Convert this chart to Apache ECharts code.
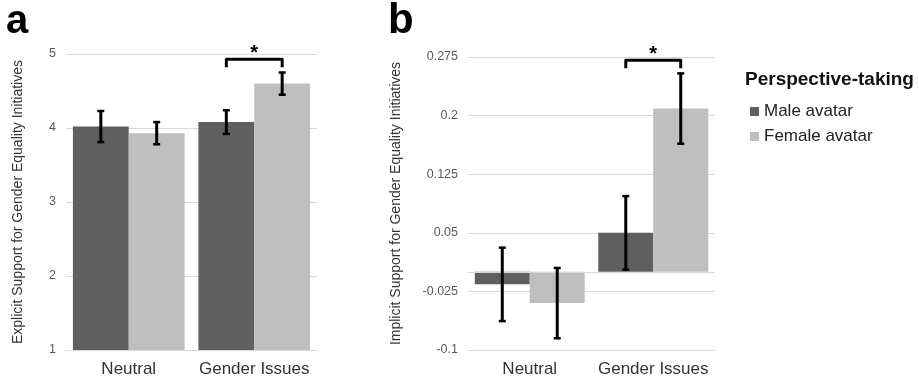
<!DOCTYPE html>
<html>
<head>
<meta charset="utf-8">
<script src="https://cdn.jsdelivr.net/npm/echarts@6/dist/echarts.min.js"></script>
<style>
html, body { margin: 0; padding: 0; background: #fff; }
#chart { width: 919px; height: 383px; }
</style>
</head>
<body>
<div id="chart"></div>
<script>
const categories = ['Neutral', 'Gender Issues']
const seriesNames = ['Male avatar', 'Female avatar']

// panel a: explicit support (means and error half-widths)
const explicitMale = [4.02, 4.08]
const explicitFemale = [3.93, 4.60]
const explicitMaleErr = [0.21, 0.16]
const explicitFemaleErr = [0.15, 0.15]
const explicitTicks = [1, 2, 3, 4, 5]

// panel b: implicit support
const implicitMale = [-0.016, 0.050]
const implicitFemale = [-0.040, 0.209]
const implicitMaleErr = [0.047, 0.047]
const implicitFemaleErr = [0.045, 0.045]
const implicitTicks = [-0.1, -0.025, 0.05, 0.125, 0.2, 0.275]

// significance brackets: [category index, height]
const sigA = [1, 4.93]
const sigB = [1, 0.271]

const FONT = 'Liberation Sans, Arial, sans-serif'
const DARK = '#5f5f5f'
const LIGHT = '#bfbfbf'
const GRID_COLOR = '#d9d9d9'
const BAR_SHARE = 0.89

const chart = echarts.init(document.getElementById('chart'))

function errorBarItem (params, api) {
  const cat = api.value(0)
  const side = api.value(3)
  const band = api.size([1, 0])[0]
  const offset = side * band * BAR_SHARE / 4
  const top = api.coord([cat, api.value(1) + api.value(2)])
  const bottom = api.coord([cat, api.value(1) - api.value(2)])
  const x = top[0] + offset
  const cap = 3.5
  return {
    type: 'group',
    children: [
      { type: 'line', shape: { x1: x, y1: top[1], x2: x, y2: bottom[1] }, style: { stroke: '#000', lineWidth: 3 } },
      { type: 'line', shape: { x1: x - cap, y1: top[1], x2: x + cap, y2: top[1] }, style: { stroke: '#000', lineWidth: 2.5 } },
      { type: 'line', shape: { x1: x - cap, y1: bottom[1], x2: x + cap, y2: bottom[1] }, style: { stroke: '#000', lineWidth: 2.5 } }
    ]
  }
}

function bracketItem (params, api) {
  const p = api.coord([api.value(0), api.value(1)])
  const band = api.size([1, 0])[0]
  const off = band * BAR_SHARE / 4
  const x1 = p[0] - off
  const x2 = p[0] + off
  const y = p[1]
  return {
    type: 'group',
    children: [
      {
        type: 'polyline',
        shape: { points: [[x1, y + 8], [x1, y], [x2, y], [x2, y + 8]] },
        style: { stroke: '#000', lineWidth: 3, fill: null, lineJoin: 'round' }
      },
      {
        type: 'text',
        style: { text: '*', x: p[0], y: y - 6, align: 'center', verticalAlign: 'middle', font: 'bold 20px ' + FONT, fill: '#000' }
      }
    ]
  }
}

function toErr (means, errs, side) {
  return means.map((m, i) => [i, m, errs[i], side])
}

const catAxis = (gridIndex) => ({
  type: 'category',
  gridIndex,
  data: categories,
  axisTick: { show: false },
  axisLine: { show: true, onZero: false, lineStyle: { color: GRID_COLOR } },
  axisLabel: { color: '#333', fontSize: 17, fontFamily: FONT, margin: 11, interval: 0, hideOverlap: false }
})

const fmt = v => String(+v.toFixed(3))

const options = {
  animation: false,
  backgroundColor: '#fff',
  grid: [
    { left: 66, right: 602, top: 54, bottom: 33 },
    { left: 468, right: 204, top: 57, bottom: 33 }
  ],
  xAxis: [catAxis(0), catAxis(1)],
  yAxis: [
    {
      type: 'value',
      gridIndex: 0,
      min: explicitTicks[0],
      max: explicitTicks[explicitTicks.length - 1],
      interval: 1,
      name: 'Explicit Support for Gender Equality Initiatives',
      nameLocation: 'middle',
      nameGap: 41,
      nameTextStyle: { color: '#333', fontSize: 14, fontFamily: FONT },
      axisLine: { show: false },
      axisTick: { show: false },
      axisLabel: { color: '#595959', fontSize: 12.5, fontFamily: FONT, margin: 10, formatter: fmt },
      splitLine: { lineStyle: { color: GRID_COLOR } }
    },
    {
      type: 'value',
      gridIndex: 1,
      min: implicitTicks[0],
      max: implicitTicks[implicitTicks.length - 1],
      interval: 0.075,
      name: 'Implicit Support for Gender Equality Initiatives',
      nameLocation: 'middle',
      nameGap: 65,
      nameTextStyle: { color: '#333', fontSize: 14, fontFamily: FONT },
      axisLine: { show: false },
      axisTick: { show: false },
      axisLabel: { color: '#595959', fontSize: 12.5, fontFamily: FONT, margin: 10, formatter: fmt },
      splitLine: { lineStyle: { color: GRID_COLOR } }
    }
  ],
  legend: {
    left: 745,
    top: 98,
    orient: 'vertical',
    icon: 'rect',
    itemWidth: 9,
    itemHeight: 9,
    itemGap: 8,
    data: seriesNames,
    textStyle: { color: '#222', fontSize: 17, fontFamily: FONT }
  },
  graphic: [
    { type: 'text', left: 6, top: 2, style: { text: 'a', font: 'bold 40px ' + FONT, fill: '#000' } },
    { type: 'text', left: 388, top: 0, style: { text: 'b', font: 'bold 42px ' + FONT, fill: '#000' } },
    { type: 'text', left: 745, top: 70, style: { text: 'Perspective-taking', font: 'bold 19px ' + FONT, fill: '#111' } }
  ],
  series: [
    { name: seriesNames[0], type: 'bar', xAxisIndex: 0, yAxisIndex: 0, data: explicitMale, barGap: '0%', barCategoryGap: '11%', itemStyle: { color: DARK } },
    { name: seriesNames[1], type: 'bar', xAxisIndex: 0, yAxisIndex: 0, data: explicitFemale, barGap: '0%', barCategoryGap: '11%', itemStyle: { color: LIGHT } },
    {
      name: seriesNames[0], type: 'bar', xAxisIndex: 1, yAxisIndex: 1, data: implicitMale, barGap: '0%', barCategoryGap: '11%', itemStyle: { color: DARK },
      markLine: { silent: true, symbol: 'none', label: { show: false }, lineStyle: { color: GRID_COLOR, type: 'solid', width: 1 }, data: [{ yAxis: 0 }] }
    },
    { name: seriesNames[1], type: 'bar', xAxisIndex: 1, yAxisIndex: 1, data: implicitFemale, barGap: '0%', barCategoryGap: '11%', itemStyle: { color: LIGHT } },
    { type: 'custom', xAxisIndex: 0, yAxisIndex: 0, clip: false, z: 5, renderItem: errorBarItem, data: toErr(explicitMale, explicitMaleErr, -1).concat(toErr(explicitFemale, explicitFemaleErr, 1)) },
    { type: 'custom', xAxisIndex: 1, yAxisIndex: 1, clip: false, z: 5, renderItem: errorBarItem, data: toErr(implicitMale, implicitMaleErr, -1).concat(toErr(implicitFemale, implicitFemaleErr, 1)) },
    { type: 'custom', xAxisIndex: 0, yAxisIndex: 0, clip: false, z: 5, renderItem: bracketItem, data: [sigA] },
    { type: 'custom', xAxisIndex: 1, yAxisIndex: 1, clip: false, z: 5, renderItem: bracketItem, data: [sigB] }
  ]
}

chart.setOption(options)
</script>
</body>
</html>
